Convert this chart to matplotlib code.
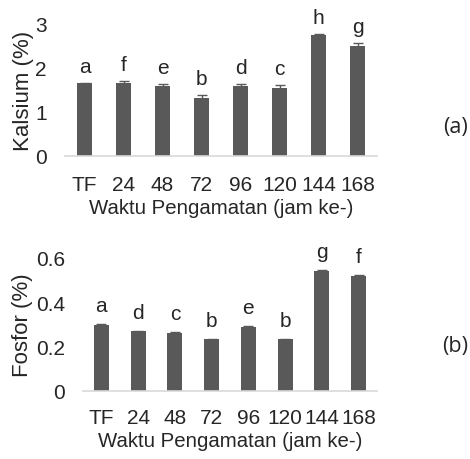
import matplotlib
matplotlib.use('Agg')
import matplotlib.pyplot as plt

plt.rcParams['font.family'] = ['Liberation Sans', 'DejaVu Sans']

waktu = ['TF', '24', '48', '72', '96', '120', '144', '168']

kalsium = [1.65, 1.65, 1.58, 1.32, 1.58, 1.55, 2.75, 2.51]
kalsium_err = [0.01, 0.06, 0.06, 0.06, 0.06, 0.06, 0.02, 0.06]
kalsium_huruf = ['a', 'f', 'e', 'b', 'd', 'c', 'h', 'g']

fosfor = [0.298, 0.27, 0.26, 0.233, 0.29, 0.233, 0.541, 0.52]
fosfor_err = [0.005, 0.002, 0.004, 0.002, 0.002, 0.002, 0.004, 0.002]
fosfor_huruf = ['a', 'd', 'c', 'b', 'e', 'b', 'g', 'f']

W, H = 470, 460
BAR = '#595959'
AXIS = '#d9d9d9'
TXT = '#262626'
FS = 15


def px_axes(fig, x0, x1, y_top, y_base):
    return fig.add_axes([x0 / W, 1 - y_base / H, (x1 - x0) / W, (y_base - y_top) / H])


def draw_panel(ax, values, errs, letters, ymax, yticks, ylabel, xpad, lpad,
               ylab_x, xlab_y, tag, tag_y):
    x = range(len(values))
    ax.bar(x, values, width=0.41, color=BAR, zorder=2)
    ax.errorbar(x, values, yerr=errs, fmt='none', ecolor=BAR, elinewidth=1,
                capsize=3.5, capthick=1, zorder=3)
    for i, (v, e, t) in enumerate(zip(values, errs, letters)):
        ax.annotate(t, (i, v + e), xytext=(0, lpad), textcoords='offset points',
                    ha='center', va='bottom', fontsize=FS, color=TXT)
    ax.set_xlim(-0.5, len(values) - 0.5)
    ax.set_ylim(0, ymax)
    ax.set_yticks(yticks)
    ax.set_yticklabels([f'{t:g}' for t in yticks])
    ax.set_xticks(list(x))
    ax.set_xticklabels(waktu)
    for s in ['top', 'right', 'left']:
        ax.spines[s].set_visible(False)
    ax.spines['bottom'].set_color(AXIS)
    ax.spines['bottom'].set_linewidth(1.2)
    ax.tick_params(axis='both', length=0, labelsize=FS, colors=TXT)
    ax.tick_params(axis='x', pad=xpad)
    ax.tick_params(axis='y', pad=13)
    ax.set_ylabel(ylabel, fontsize=16, color=TXT)
    ax.yaxis.set_label_coords(ylab_x, 0.5)
    ax.set_xlabel('Waktu Pengamatan (jam ke-)', fontsize=14.7, color=TXT)
    ax.xaxis.set_label_coords(0.5, xlab_y)
    ax.figure.text(455 / W, 1 - tag_y / H, tag, fontsize=15.5, ha='center', va='center',
                   family=['Open Sans', 'DejaVu Sans'], color=TXT)


fig = plt.figure(figsize=(W / 100, H / 100), dpi=100)

ax1 = px_axes(fig, 65, 377, 25, 157)
draw_panel(ax1, kalsium, kalsium_err, kalsium_huruf, 3, [0, 1, 2, 3], 'Kalsium (%)',
           13.5, 5, (34 - 65) / 312, -0.32, '(a)', 127)

ax2 = px_axes(fig, 83, 377, 259, 392)
draw_panel(ax2, fosfor, fosfor_err, fosfor_huruf, 0.6, [0, 0.2, 0.4, 0.6], 'Fosfor (%)',
           12.5, 6.5, (33 - 83) / 294, -0.30, '(b)', 347)

fig.savefig('out.png', dpi=100)
